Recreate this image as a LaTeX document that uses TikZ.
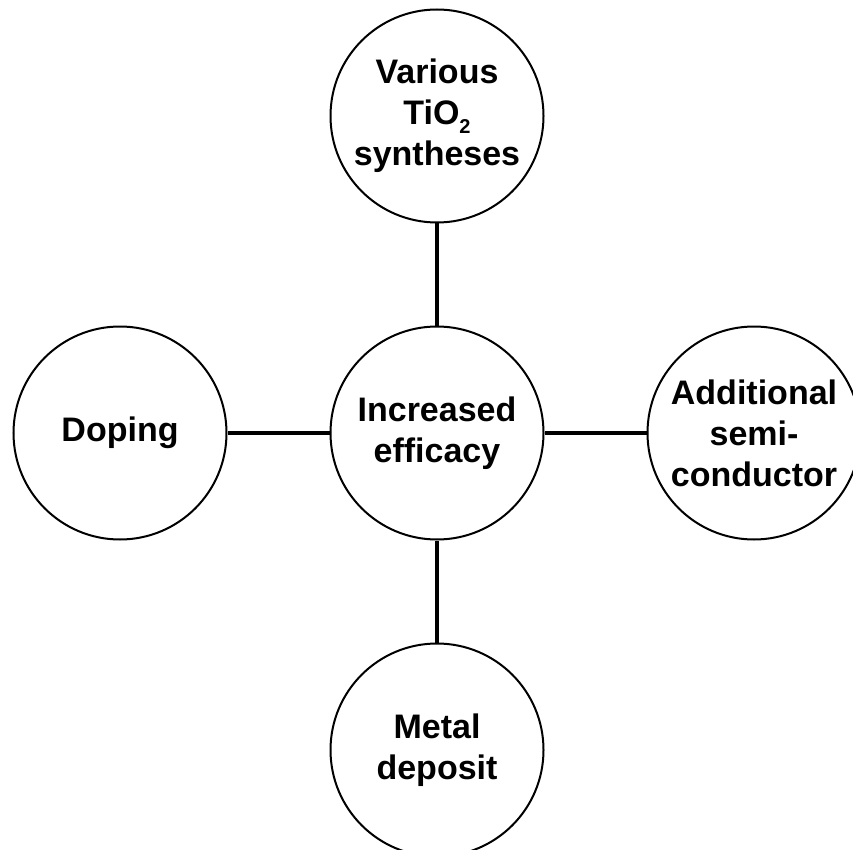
\documentclass[tikz,border=0pt]{standalone}
\usepackage{fontspec}
\setmainfont{Liberation Sans}
\begin{document}
\begin{tikzpicture}[x=1pt,y=-1pt,
  bubble/.style={circle, draw=black, line width=2pt, minimum size=213pt, inner sep=0pt,
    align=center, font=\bfseries\fontsize{34}{41}\selectfont, text=black},
  link/.style={draw=black, line width=4pt}]
\useasboundingbox[fill=white] (0,0) rectangle (853,850);
\clip (0,0) rectangle (853,850);
\node[bubble] (top) at (437,116) {Various\\TiO\raisebox{-9pt}{\fontsize{20}{20}\selectfont 2}\\syntheses};
\node[bubble] (mid) at (437,433) {Increased\\efficacy};
\node[bubble] (left) at (120,433) {Doping};
\node[bubble] (right) at (754,433) {Additional\\semi-\\conductor};
\node[bubble] (bot) at (437,750) {Metal\\deposit};
\draw[link] (top.south) -- (mid.north);
\draw[link] (mid.south) -- (bot.north);
\draw[link] (left.east) -- (mid.west);
\draw[link] (mid.east) -- (right.west);
\end{tikzpicture}
\end{document}
